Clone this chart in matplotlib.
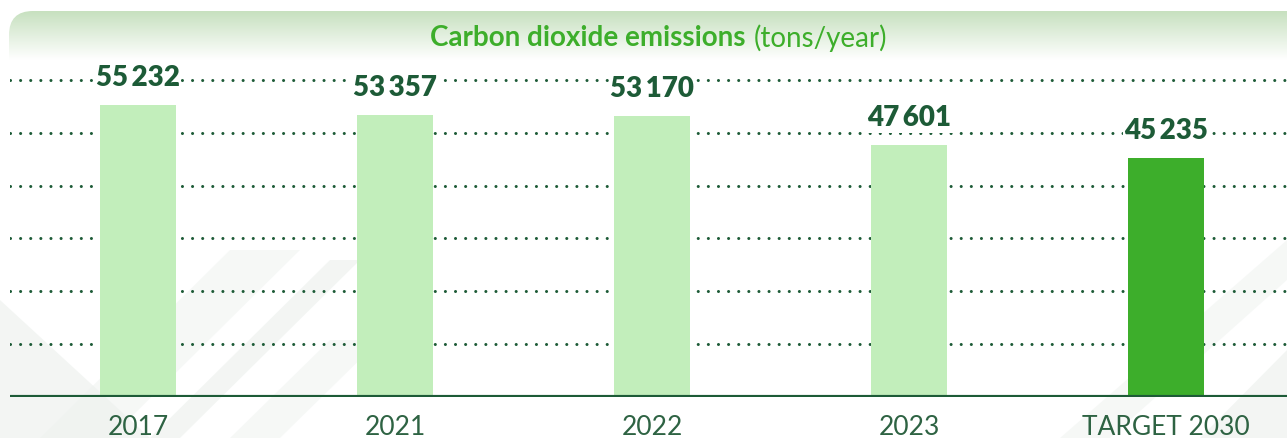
import matplotlib.pyplot as plt
import numpy as np
from matplotlib.patches import FancyBboxPatch, Polygon

categories = ["2017", "2021", "2022", "2023", "TARGET 2030"]
values = [55232, 53357, 53170, 47601, 45235]
is_target = [False, False, False, False, True]

W, H = 1287, 438
DARK = "#1d5b37"
LIGHT_BAR = "#c2eebb"
TARGET_BAR = "#3dae2b"

plt.rcParams['font.family'] = ['Lato', 'DejaVu Sans']

fig = plt.figure(figsize=(W / 100, H / 100), dpi=100)
fig.patch.set_facecolor("white")

# faint diagonal bands in the background
bg = fig.add_axes([0, 0, 1, 1], zorder=-10)
bg.set_xlim(0, W)
bg.set_ylim(H, 0)
bg.axis("off")
bands = [
    [(0, 438), (0, 300), (150, 438)],
    [(40, 438), (230, 250), (300, 250), (110, 438)],
    [(150, 438), (330, 260), (360, 260), (180, 438)],
    [(230, 438), (330, 340), (380, 340), (280, 438)],
    [(1200, 438), (1287, 350), (1287, 438)],
    [(1060, 438), (1287, 240), (1287, 280), (1110, 438)],
]
for i, b in enumerate(bands):
    bg.add_patch(Polygon(b, closed=True, color="#eef2ef", alpha=0.5 if i % 2 else 0.7, lw=0))

# title banner with gradient
bx = fig.add_axes([9 / W, (H - 60) / H, 1 - 9 / W, 49 / H], zorder=-5)
bx.set_xlim(0, W - 9)
bx.set_ylim(0, 49)
bx.axis("off")
grad = np.linspace(0, 1, 100).reshape(-1, 1)
top = np.array([0.78, 0.88, 0.75])
col = top[None, None, :] * (1 - grad[:, :, None]) + np.ones(3)[None, None, :] * grad[:, :, None]
col = np.clip(col, 0, 1)
img = bx.imshow(col, extent=[0, W, 0, 49], origin="upper", aspect="auto")
shape = FancyBboxPatch((0, -40), W + 100, 89, boxstyle="round,pad=0,rounding_size=24",
                       transform=bx.transData, facecolor="none", edgecolor="none")
bx.add_patch(shape)
img.set_clip_path(shape)

fig.text(746 / W, 1 - 38 / H, "Carbon dioxide emissions", ha="right", va="center",
         fontsize=20, fontweight="bold", color=TARGET_BAR)
fig.text(754 / W, 1 - 38 / H, "(tons/year)", ha="left", va="center",
         fontsize=20, color=TARGET_BAR)

# main chart
scale = 292 / 55232  # px per ton
y_top_px = 60
ymax = (397 - y_top_px) / scale
ax = fig.add_axes([10 / W, (H - 397) / H, 1 - 10 / W, (397 - y_top_px) / H])
ax.patch.set_alpha(0)
x = np.arange(len(categories))
colors = [TARGET_BAR if t else LIGHT_BAR for t in is_target]
ax.bar(x, values, width=0.296, color=colors, zorder=3)
ax.set_xlim(-0.498, 4.47)
ax.set_ylim(0, ymax)

for gy in range(10000, 70000, 10000):
    ax.axhline(gy, color=DARK, lw=2.2, linestyle=(0, (0.01, 3.3)), dash_capstyle="round", zorder=1)
ax.axhline(0, color=DARK, lw=3, zorder=4)

for xi, v in zip(x, values):
    label = f"{v:,}".replace(",", "\u2009")
    ax.annotate(label, (xi, v), xytext=(0, 14), textcoords="offset pixels",
                ha="center", va="bottom", fontsize=20, fontweight="heavy", color=DARK, zorder=5,
                bbox=dict(boxstyle="square,pad=0.05", fc="white", ec="none"))

for s in ax.spines.values():
    s.set_visible(False)
ax.set_yticks([])
ax.set_xticks(x)
ax.set_xticklabels(categories, fontsize=19, color="#2e6343")
ax.tick_params(axis="x", length=0, pad=13)

fig.savefig("out.png", dpi=100)
